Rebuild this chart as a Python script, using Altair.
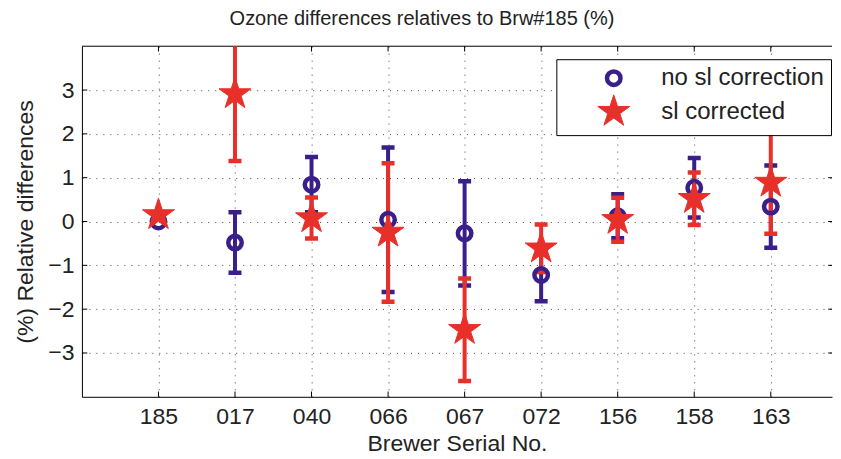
import altair as alt
import pandas as pd

# ---- data ----
serials = ["185", "017", "040", "066", "067", "072", "156", "158", "163"]
no_sl_mean = [0.00, -0.48, 0.84, 0.04, -0.27, -1.22, 0.12, 0.77, 0.34]
no_sl_err = [0.00, 0.69, 0.63, 1.65, 1.19, 0.60, 0.50, 0.68, 0.94]
sl_mean = [0.15, 2.91, 0.08, -0.25, -2.47, -0.61, 0.04, 0.52, 0.89]
sl_err = [0.00, 1.53, 0.47, 1.58, 1.17, 0.54, 0.50, 0.60, 1.17]
series_names = ["no sl correction", "sl corrected"]
y_ticks = [-3, -2, -1, 0, 1, 2, 3]

BLUE = "#3a1f8a"
RED = "#e8302a"
FONT = "Liberation Sans"
TXT = "#222222"
STAR = ("M0,-1L0.225,-0.309L0.951,-0.309L0.363,0.118L0.588,0.809L0,0.382"
        "L-0.588,0.809L-0.363,0.118L-0.951,-0.309L-0.225,-0.309Z")

rows = []
for name, means, errs in [(series_names[0], no_sl_mean, no_sl_err),
                          (series_names[1], sl_mean, sl_err)]:
    for i, (s, m, e) in enumerate(zip(serials, means, errs)):
        rows.append({"pos": i + 1, "serial": s, "series": name,
                     "mean": m, "err": e, "lo": m - e, "hi": m + e})
df = pd.DataFrame(rows)

label_expr = "[" + ",".join("'%s'" % s for s in serials) + "][datum.value - 1]"

XMAX = 9.8
xscale = alt.Scale(domain=[0, XMAX], nice=False, zero=False)
yscale = alt.Scale(domain=[-4, 4], nice=False, zero=False)

x_axis = alt.Axis(values=list(range(1, 10)), labelExpr=label_expr,
                  title="Brewer Serial No.", ticks=False, labelPadding=9,
                  titlePadding=4)
y_axis = alt.Axis(values=y_ticks, title="(%) Relative differences",
                  ticks=False, labelPadding=8, titlePadding=10)

X = alt.X("pos:Q", scale=xscale, axis=x_axis)

base = alt.Chart(df)


def errorbar_layers(name, col):
    sub = base.transform_filter(alt.datum.series == name).transform_filter("datum.err > 0")
    stem = sub.mark_rule(strokeWidth=4, clip=True, color=col).encode(
        x=X, y=alt.Y("lo:Q", scale=yscale, axis=y_axis), y2="hi:Q")
    lo = sub.mark_tick(orient="horizontal", size=13, thickness=4.5, opacity=1,
                       clip=True, color=col).encode(
        x=X, y=alt.Y("lo:Q", scale=yscale, axis=y_axis))
    hi = sub.mark_tick(orient="horizontal", size=13, thickness=4.5, opacity=1,
                       clip=True, color=col).encode(
        x=X, y=alt.Y("hi:Q", scale=yscale, axis=y_axis))
    return [stem, lo, hi]


leg = alt.Legend(title=None, orient="none", legendX=475, legendY=13,
                 strokeColor="black", fillColor="white", padding=7,
                 labelFont=FONT, labelFontSize=24, labelColor=TXT, labelLimit=400,
                 symbolOffset=33, labelOffset=30, rowPadding=-12, cornerRadius=0)

points = base.mark_point(opacity=1).encode(
    x=X, y=alt.Y("mean:Q", scale=yscale, axis=y_axis),
    color=alt.Color("series:N", scale=alt.Scale(domain=series_names, range=[BLUE, RED]), legend=leg),
    shape=alt.Shape("series:N", scale=alt.Scale(domain=series_names, range=["circle", STAR]), legend=leg),
    fill=alt.Fill("series:N", scale=alt.Scale(domain=series_names, range=["transparent", RED]), legend=leg),
    size=alt.Size("series:N", scale=alt.Scale(domain=series_names, range=[182, 1130]), legend=leg),
    strokeWidth=alt.StrokeWidth("series:N", scale=alt.Scale(domain=series_names, range=[4.5, 1]), legend=leg),
)

# frame (top line) and inward ticks
top_line = alt.Chart(pd.DataFrame({"y": [4]})).mark_rule(color="black", strokeWidth=1).encode(
    y=alt.Y("y:Q", scale=yscale, axis=y_axis), x=alt.datum(0, scale=xscale), x2=alt.datum(XMAX))

ytick_df = pd.DataFrame({"v": y_ticks})
left_ticks = alt.Chart(ytick_df).mark_rule(color="black", strokeWidth=1).encode(
    y=alt.Y("v:Q", scale=yscale, axis=y_axis), x=alt.datum(0, scale=xscale), x2=alt.datum(0.07))
right_ticks = alt.Chart(ytick_df).mark_rule(color="black", strokeWidth=1).encode(
    y=alt.Y("v:Q", scale=yscale, axis=y_axis), x=alt.datum(XMAX - 0.05, scale=xscale), x2=alt.datum(XMAX))
xtick_df = pd.DataFrame({"p": list(range(1, 10))})
bottom_ticks = alt.Chart(xtick_df).mark_rule(color="black", strokeWidth=1).encode(
    x=alt.X("p:Q", scale=xscale, axis=x_axis), y=alt.datum(-4, scale=yscale), y2=alt.datum(-3.88))
top_ticks = alt.Chart(xtick_df).mark_rule(color="black", strokeWidth=1).encode(
    x=alt.X("p:Q", scale=xscale, axis=x_axis), y=alt.datum(4, scale=yscale), y2=alt.datum(3.88))

layers = [top_line, left_ticks, right_ticks, bottom_ticks, top_ticks]
layers += errorbar_layers(series_names[0], BLUE)
layers += errorbar_layers(series_names[1], RED)
layers += [points]

chart = alt.layer(*layers).properties(
    width=751, height=351, background="white",
    title=alt.TitleParams("Ozone differences relatives to Brw#185 (%)", fontSize=20,
                          font=FONT, fontWeight="normal", color=TXT, offset=17,
                          anchor="middle", dx=-35),
    padding={"left": 6, "top": 0, "right": 0, "bottom": 5},
).configure_view(stroke=None).configure_axis(
    labelFont=FONT, labelFontSize=23, labelColor=TXT,
    titleFont=FONT, titleFontSize=23, titleFontWeight="normal", titleColor=TXT,
    domain=True, domainColor="black", domainWidth=1,
    grid=True, gridColor="#333333", gridDash=[1, 6], gridWidth=1, gridOpacity=0.9,
)

chart.save("out.html", embed_options={"renderer": "svg", "actions": False})
